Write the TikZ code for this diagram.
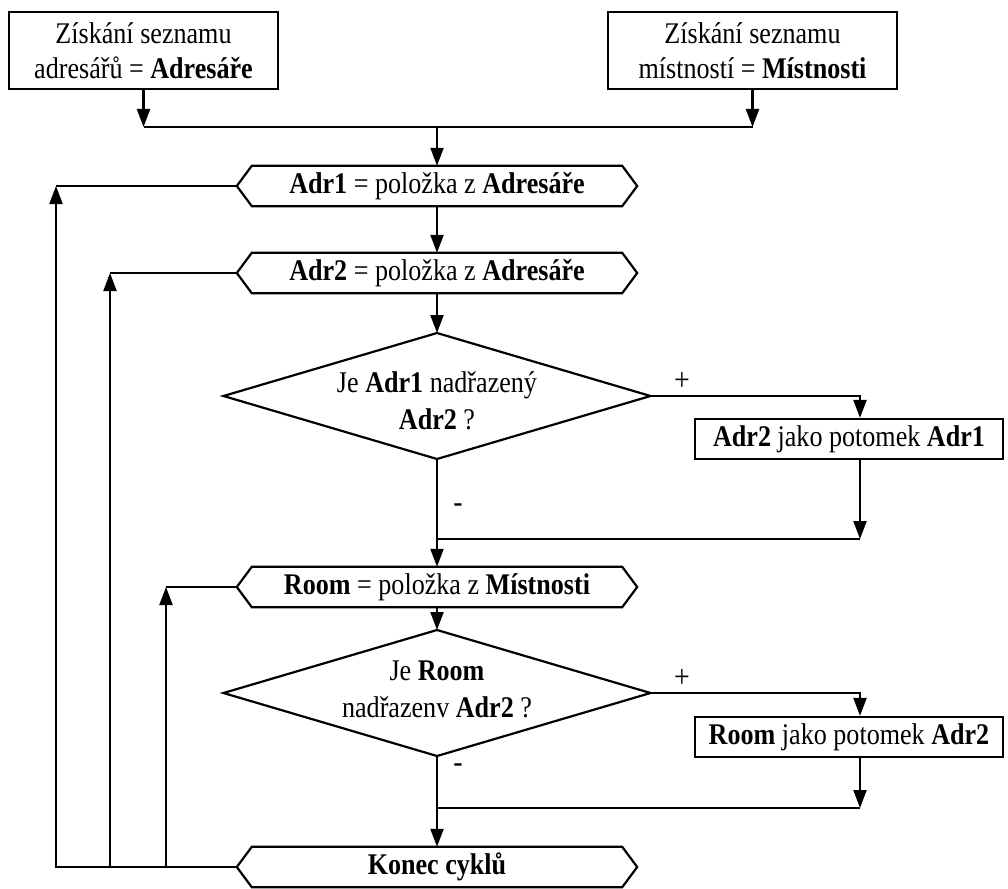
\documentclass[tikz,border=0pt]{standalone}
\usepackage{fontspec}
\setmainfont{Liberation Serif}[FakeStretch=0.87]
\usetikzlibrary{arrows.meta,calc}
\newcommand\hexframe[1]{%
  \draw[ln] (#1.north west) -- (#1.north east) -- ($(#1.east)+(15,0)$) -- (#1.south east) -- (#1.south west) -- ($(#1.west)+(-15,0)$) -- cycle;
  \coordinate (#1L) at ($(#1.west)+(-15,0)$);}
\newcommand\diamframe[2]{%
  \coordinate (#1N) at ($(#2)+(0,-63)$);
  \coordinate (#1S) at ($(#2)+(0,63)$);
  \coordinate (#1E) at ($(#2)+(213.5,0)$);
  \coordinate (#1W) at ($(#2)+(-213.5,0)$);
  \draw[ln] (#1N) -- (#1E) -- (#1S) -- (#1W) -- cycle;}
\begin{document}
\begin{tikzpicture}[x=1pt,y=-1pt,
  every node/.style={font=\fontsize{30}{35}\selectfont, align=center, inner sep=0pt},
  ln/.style={line width=2.2pt, line join=miter},
  arr/.style={ln, -{Triangle[width=13pt,length=18pt]}},
  procbox/.style={draw, line width=2.2pt, minimum height=#1},
  hexbox/.style={minimum width=370pt, minimum height=40pt},
  dtext/.style={font=\fontsize{30}{37}\selectfont},
  lbl/.style={font=\fontsize{32}{32}\selectfont}
]
\useasboundingbox (0,0) rectangle (1008,888);

% top boxes
\node[procbox=77pt, minimum width=269pt] (b1) at (143.5,50.5) {Získání seznamu\\adresářů = \textbf{Adresáře}};
\node[procbox=77pt, minimum width=289pt] (b2) at (752.5,50.5) {Získání seznamu\\místností = \textbf{Místnosti}};
\coordinate (jl) at (143.5,127);
\coordinate (jr) at (752.5,127);

% hexagons
\node[hexbox] (h1) at (437,186) {\textbf{Adr1} = položka z \textbf{Adresáře}};
\hexframe{h1}
\node[hexbox] (h2) at (437,273) {\textbf{Adr2} = položka z \textbf{Adresáře}};
\hexframe{h2}
\node[hexbox] (h3) at (437,587) {\textbf{Room} = položka z \textbf{Místnosti}};
\hexframe{h3}
\node[hexbox] (h4) at (437,867) {\textbf{Konec cyklů}};
\hexframe{h4}

% decisions
\coordinate (d1) at (437,396);
\diamframe{d1}{d1}
\node[dtext] (t1) at (437,401) {Je \textbf{Adr1} nadřazený\\\textbf{Adr2} ?};
\coordinate (d2) at (437,693);
\diamframe{d2}{d2}
\node[dtext] (t2) at (437,689) {Je \textbf{Room}\\nadřazenv \textbf{Adr2} ?};

% side boxes
\node[procbox=40pt, minimum width=308pt] (b3) at (849,439) {\textbf{Adr2} jako potomek \textbf{Adr1}};
\node[procbox=40pt, minimum width=308pt] (b4) at (849,737) {\textbf{Room} jako potomek \textbf{Adr2}};

\coordinate (p1) at (860,396);
\coordinate (p2) at (860,693);
\coordinate (m1) at (437,539);
\coordinate (m2) at (437,808);

% labels
\node[lbl] (plus1) at (682,381) {+};
\node[lbl] (plus2) at (682,678) {+};
\node[lbl] (minus1) at (458,508) {-};
\node[lbl] (minus2) at (458,768) {-};

% top connectors
\draw[arr] (b1.south) -- (jl);
\draw[arr] (b2.south) -- (jr);
\draw[ln] (jl) -- (jr);
\draw[arr] (h1.north |- jl) -- (h1.north);
\draw[arr] (h1.south) -- (h2.north);
\draw[arr] (h2.south) -- (d1N);

% decision 1
\draw[arr] (d1E) -- (p1) -- (b3.north -| p1);
\draw[arr] (b3.south -| p1) -- (m1 -| p1);
\draw[ln] (m1) -- (m1 -| p1);
\draw[arr] (d1S) -- (h3.north);
\draw[arr] (h3.south) -- (d2N);

% decision 2
\draw[arr] (d2E) -- (p2) -- (b4.north -| p2);
\draw[arr] (b4.south -| p2) -- (m2 -| p2);
\draw[ln] (m2) -- (m2 -| p2);
\draw[arr] (d2S) -- (h4.north);

% loops
\coordinate (c1) at (h1L -| 56,0);
\coordinate (c2) at (h2L -| 110,0);
\coordinate (c3) at (h3L -| 166,0);
\draw[arr] (h4L) -| (c1);
\draw[ln] (c1) -- (h1L);
\draw[arr] (h4L) -| (c2);
\draw[ln] (c2) -- (h2L);
\draw[arr] (h4L) -| (c3);
\draw[ln] (c3) -- (h3L);
\end{tikzpicture}
\end{document}
